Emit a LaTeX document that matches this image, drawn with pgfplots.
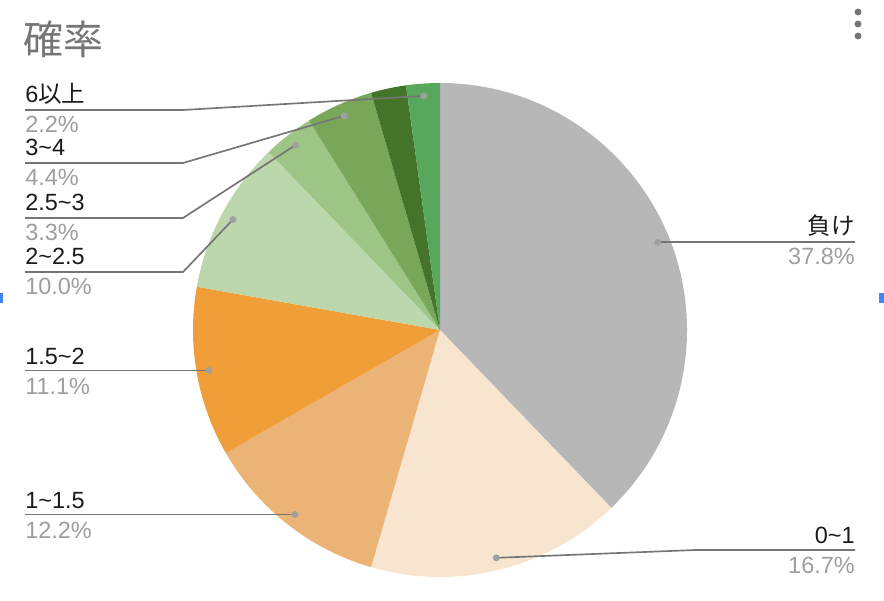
\documentclass[border=0pt]{standalone}
\usepackage{fontspec}
\setmainfont{Liberation Sans}
\newfontfamily\cjk{Noto Sans CJK JP}
\usepackage{pgfplots}
\pgfplotsset{compat=1.18}
\definecolor{c0}{HTML}{B7B7B7}
\definecolor{c1}{HTML}{F8E5D0}
\definecolor{c2}{HTML}{EBB476}
\definecolor{c3}{HTML}{F09E38}
\definecolor{c4}{HTML}{BDD7AD}
\definecolor{c5}{HTML}{9DC586}
\definecolor{c6}{HTML}{78A75A}
\definecolor{c7}{HTML}{44742A}
\definecolor{c8}{HTML}{57A75C}
\definecolor{linec}{HTML}{757575}
\definecolor{dotc}{HTML}{A0A0A0}
\definecolor{pctc}{HTML}{9E9E9E}
\definecolor{titlec}{HTML}{757575}
\definecolor{labc}{HTML}{1A1A1A}
\definecolor{bluec}{HTML}{4285F4}
% shares in percent, clockwise from 12 o'clock
\newcommand\pcts{37.8,16.7,12.2,11.1,10.0,3.3,4.4,2.3,2.2}
\newcommand\lfont{\fontsize{17.6}{17.6}\selectfont}
\begin{document}
\xdef\cum{0}%
\foreach \v [count=\i from 0] in \pcts {%
  \pgfmathsetmacro\ta{90-3.6*\cum}%
  \pgfmathsetmacro\tb{90-3.6*(\cum+\v)}%
  \pgfmathsetmacro\tm{90-3.6*(\cum+\v/2)}%
  \expandafter\xdef\csname sa\i\endcsname{\ta}%
  \expandafter\xdef\csname sb\i\endcsname{\tb}%
  \expandafter\xdef\csname sm\i\endcsname{\tm}%
  \pgfmathsetmacro\tc{\cum+\v}%
  \xdef\cum{\tc}%
}%
\begin{tikzpicture}
\begin{axis}[scale only axis, width=663pt, height=450pt,
  xmin=0, xmax=884, ymin=0, ymax=600, hide axis, clip=false]
\addplot[draw=none] coordinates {(0,0)};
\pgfplotsinvokeforeach{0,...,8}{
  \fill[c#1] (axis cs:440,270) -- ++(\csname sa#1\endcsname:185.25pt)
    arc[start angle=\csname sa#1\endcsname, end angle=\csname sb#1\endcsname, radius=185.25pt] -- cycle;
  \path (axis cs:440,270) ++(\csname sm#1\endcsname:176pt) coordinate (d#1);
}
\path (axis cs:25,0) coordinate (lx) (axis cs:855,0) coordinate (rx);
% leader lines
\draw[linec, line width=1.25pt] (d8) -- (axis cs:183,490) -- (axis cs:25,490);
\draw[linec, line width=1.25pt] (d6) -- (axis cs:183,437) -- (axis cs:25,437);
\draw[linec, line width=1.25pt] (d5) -- (axis cs:183,382) -- (axis cs:25,382);
\draw[linec, line width=1.25pt] (d4) -- (axis cs:183,328) -- (axis cs:25,328);
\draw[linec, line width=1.25pt] (d3) -- (lx |- d3);
\draw[linec, line width=1.25pt] (d2) -- (lx |- d2);
\draw[linec, line width=1.25pt] (d0) -- (rx |- d0);
\draw[linec, line width=1.25pt] (d1) -- (axis cs:695,50) -- (axis cs:855,50);
\pgfplotsinvokeforeach{0,1,2,3,4,5,6,8}{\fill[dotc] (d#1) circle[radius=2.6pt];}
% left labels
\node[anchor=base west, inner sep=0, font=\lfont, text=labc] at (axis cs:25,497) {6{\cjk 以上}};
\node[anchor=base west, inner sep=0, font=\lfont, text=pctc] at (axis cs:25,467) {2.2\%};
\node[anchor=base west, inner sep=0, font=\lfont, text=labc] at (axis cs:25,444) {3\textasciitilde 4};
\node[anchor=base west, inner sep=0, font=\lfont, text=pctc] at (axis cs:25,414) {4.4\%};
\node[anchor=base west, inner sep=0, font=\lfont, text=labc] at (axis cs:25,389) {2.5\textasciitilde 3};
\node[anchor=base west, inner sep=0, font=\lfont, text=pctc] at (axis cs:25,359) {3.3\%};
\node[anchor=base west, inner sep=0, font=\lfont, text=labc] at (axis cs:25,335) {2\textasciitilde 2.5};
\node[anchor=base west, inner sep=0, font=\lfont, text=pctc] at (axis cs:25,305) {10.0\%};
\node[anchor=base west, inner sep=0, font=\lfont, text=labc] at (axis cs:25,236) {1.5\textasciitilde 2};
\node[anchor=base west, inner sep=0, font=\lfont, text=pctc] at (axis cs:25,206) {11.1\%};
\node[anchor=base west, inner sep=0, font=\lfont, text=labc] at (axis cs:25,92) {1\textasciitilde 1.5};
\node[anchor=base west, inner sep=0, font=\lfont, text=pctc] at (axis cs:25,62) {12.2\%};
% right labels
\node[anchor=base east, inner sep=0, font=\lfont, text=labc] at (axis cs:855,365) {{\cjk 負け}};
\node[anchor=base east, inner sep=0, font=\lfont, text=pctc] at (axis cs:855,335) {37.8\%};
\node[anchor=base east, inner sep=0, font=\lfont, text=labc] at (axis cs:855,57) {0\textasciitilde 1};
\node[anchor=base east, inner sep=0, font=\lfont, text=pctc] at (axis cs:855,27) {16.7\%};
% title
\node[anchor=base west, inner sep=0, font=\cjk\fontsize{30}{30}\selectfont, text=titlec] at (axis cs:23,545) {確率};
% menu dots and edge marks
\pgfplotsinvokeforeach{588,576,564}{\fill[titlec] (axis cs:858,#1) circle[radius=2.6pt];}
\fill[bluec] (axis cs:0,297) rectangle (axis cs:3,307);
\fill[bluec] (axis cs:879,297) rectangle (axis cs:884,307);
\end{axis}
\path (current axis.south west) rectangle (current axis.north east);
\end{tikzpicture}
\end{document}
